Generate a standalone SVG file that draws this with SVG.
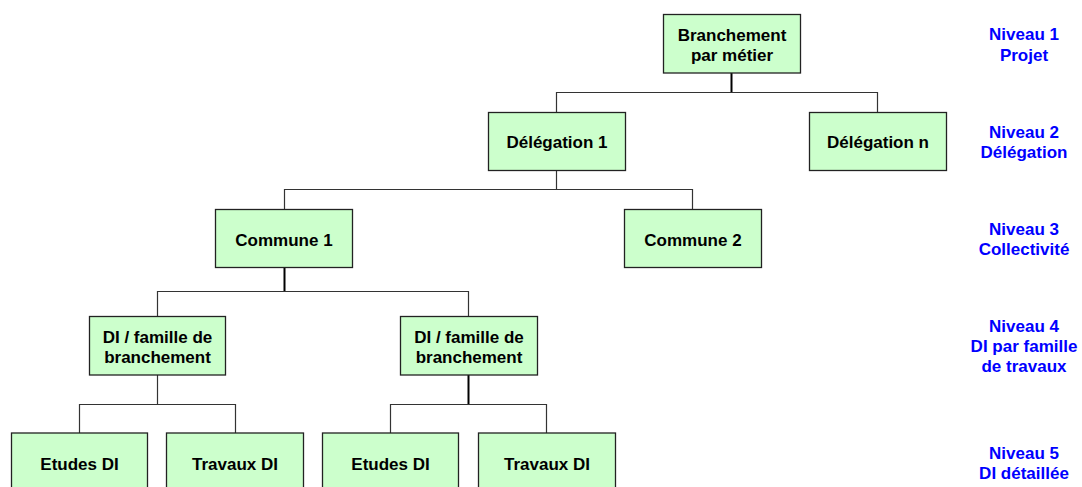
<svg xmlns="http://www.w3.org/2000/svg" width="1082" height="487" viewBox="0 0 1082 487">
<style>
.box{fill:#ccffcc;stroke:#222;stroke-width:1.3}
.t{font-family:"Liberation Sans",Arial,sans-serif;font-weight:bold;font-size:17px;fill:#000;text-anchor:middle}
.lv{font-family:"Liberation Sans",Arial,sans-serif;font-weight:bold;font-size:17px;fill:#0000ff;text-anchor:middle}
.c{fill:none;stroke:#333;stroke-width:1.2}
.ck{fill:none;stroke:#000;stroke-width:2}
</style>
<rect width="1082" height="487" fill="#fff"/>
<g id="connectors">
<path class="ck" d="M731.5 73V92.5"/>
<path class="c" d="M556.5 112V92.5H877.5V112"/>
<path class="c" d="M556.5 170V189.5"/>
<path class="c" d="M284.5 209V189.5H692.5V209"/>
<path class="ck" d="M284.5 267V291.5"/>
<path class="c" d="M157.5 316V291.5H468.5V316"/>
<path class="c" d="M157.5 375V404.5"/>
<path class="c" d="M79.5 433V404.5H235.5V433"/>
<path class="ck" d="M468.5 375V404.5"/>
<path class="c" d="M390.5 433V404.5H546.5V433"/>
</g>
<g id="n-branchement"><rect class="box" x="663.5" y="14.5" width="137" height="58.5"/><text class="t" x="732" y="40.5">Branchement</text><text class="t" x="732" y="60.5">par métier</text></g>
<g id="n-delegation1"><rect class="box" x="488.5" y="112.5" width="137" height="58"/><text class="t" x="557" y="148">Délégation 1</text></g>
<g id="n-delegationn"><rect class="box" x="809.5" y="112.5" width="137" height="58"/><text class="t" x="878" y="148">Délégation n</text></g>
<g id="n-commune1"><rect class="box" x="215.5" y="209.5" width="137" height="58"/><text class="t" x="284" y="245.5">Commune 1</text></g>
<g id="n-commune2"><rect class="box" x="624.5" y="209.5" width="137" height="58"/><text class="t" x="693" y="245.5">Commune 2</text></g>
<g id="n-di1"><rect class="box" x="89.5" y="316.5" width="136" height="58.5"/><text class="t" x="157.5" y="342.5">DI / famille de</text><text class="t" x="157.5" y="362.5">branchement</text></g>
<g id="n-di2"><rect class="box" x="400.5" y="316.5" width="137" height="58.5"/><text class="t" x="469" y="342.5">DI / famille de</text><text class="t" x="469" y="362.5">branchement</text></g>
<g id="n-etudes1"><rect class="box" x="11.5" y="433" width="136" height="58"/><text class="t" x="79.5" y="469.5">Etudes DI</text></g>
<g id="n-travaux1"><rect class="box" x="166.5" y="433" width="137" height="58"/><text class="t" x="235" y="469.5">Travaux DI</text></g>
<g id="n-etudes2"><rect class="box" x="322.5" y="433" width="136" height="58"/><text class="t" x="390.5" y="469.5">Etudes DI</text></g>
<g id="n-travaux2"><rect class="box" x="478.5" y="433" width="137" height="58"/><text class="t" x="547" y="469.5">Travaux DI</text></g>
<g id="levels">
<text class="lv" x="1024" y="40">Niveau 1</text><text class="lv" x="1024" y="60.5">Projet</text>
<text class="lv" x="1024" y="137.5">Niveau 2</text><text class="lv" x="1024" y="157.5">Délégation</text>
<text class="lv" x="1024" y="235">Niveau 3</text><text class="lv" x="1024" y="255">Collectivité</text>
<text class="lv" x="1024" y="332">Niveau 4</text><text class="lv" x="1024" y="352">DI par famille</text><text class="lv" x="1024" y="372">de travaux</text>
<text class="lv" x="1024" y="458.5">Niveau 5</text><text class="lv" x="1024" y="479">DI détaillée</text>
</g>
</svg>
